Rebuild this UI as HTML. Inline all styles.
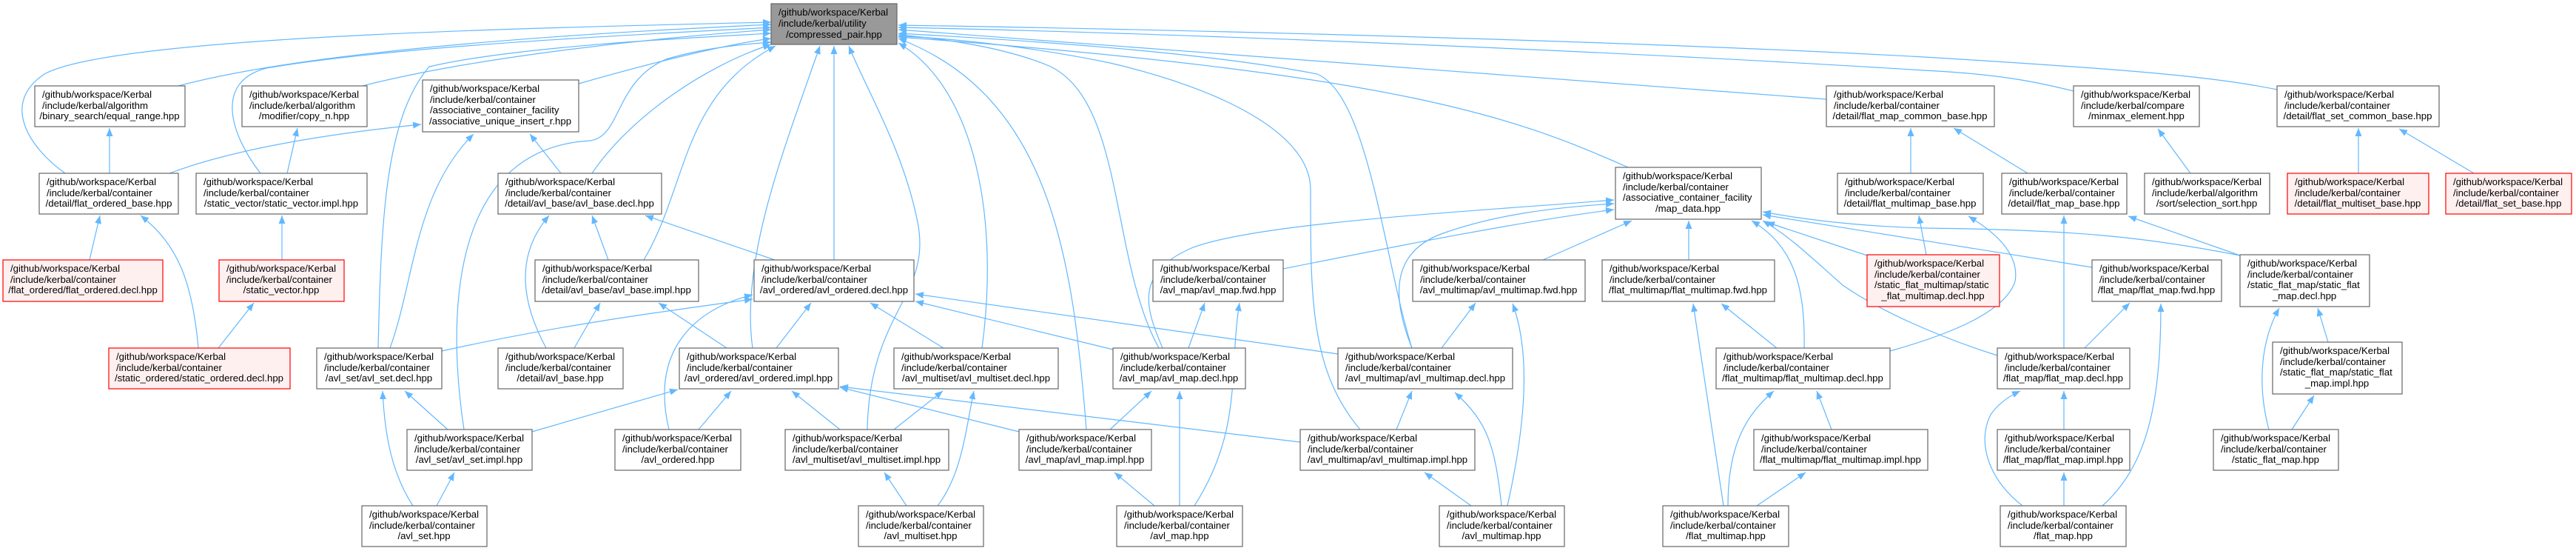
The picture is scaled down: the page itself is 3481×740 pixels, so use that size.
<!DOCTYPE html>
<html><head><meta charset="utf-8"><style>
html,body{margin:0;padding:0;background:#fff;}
svg{display:block;}
text{font-family:"Liberation Sans",sans-serif;font-size:13.2px;fill:#000;}
.n{fill:#fff;stroke:#666;stroke-width:1.2;}
.r{fill:#fff0f0;stroke:#ff0000;stroke-width:1.2;}
.g{fill:#999;stroke:#666;stroke-width:1.2;}
path.e{fill:none;stroke:#63b8ff;stroke-width:1.2;marker-end:url(#a);}
</style></head><body>
<svg width="3481" height="740" viewBox="0 0 3481 740" xmlns="http://www.w3.org/2000/svg">
<defs><marker id="a" markerWidth="11" markerHeight="9" refX="11" refY="4.5" orient="auto" markerUnits="userSpaceOnUse"><path d="M0,0 L11,4.5 L0,9z" fill="#63b8ff"/></marker></defs>
<g>
<!-- edges to compressed_pair -->
<path class="e" d="M241,116 C450,60 900,40 1042,33"/>
<path class="e" d="M490,116 C650,75 900,50 1042,40"/>
<path class="e" d="M782,113 C880,85 980,60 1042,52"/>
<path class="e" d="M88,234 C40,200 0,140 60,100 C150,50 700,38 1042,30"/>
<path class="e" d="M352,234 C310,180 290,110 360,92 C550,60 900,45 1042,37"/>
<path class="e" d="M511,470 C515,300 520,160 580,90 C700,62 950,50 1042,45"/>
<path class="e" d="M627,580 C600,400 620,200 797,190 C840,185 830,110 900,80 C950,65 1000,60 1042,57"/>
<path class="e" d="M800,234 C850,160 950,90 1042,60"/>
<path class="e" d="M870,351 C930,250 920,130 1048,62"/>
<path class="e" d="M1017,470 C1000,350 1060,200 1108,62"/>
<path class="e" d="M1127,351 L1127,62"/>
<path class="e" d="M1172,580 C1175,420 1260,400 1240,300 C1220,200 1170,120 1147,62"/>
<path class="e" d="M1327,470 C1350,300 1320,120 1214,58"/>
<path class="e" d="M1468,580 C1450,350 1420,130 1214,52"/>
<path class="e" d="M1566,470 C1500,350 1520,140 1420,90 C1350,60 1250,50 1214,47"/>
<path class="e" d="M1908,470 C1870,350 1850,130 1780,100 C1600,65 1300,50 1214,45"/>
<path class="e" d="M1838,580 C1770,500 1771,400 1771,256 C1771,180 1650,120 1500,85 C1380,60 1260,50 1214,49"/>
<path class="e" d="M2200,226 C2050,160 1900,100 1214,50"/>
<path class="e" d="M2468,134 C2000,100 1600,70 1214,40"/>
<path class="e" d="M2802,123 C2750,110 2700,100 2600,95 C2200,70 1600,45 1214,37"/>
<path class="e" d="M3077,121 C3000,105 2900,95 2600,77 C2200,55 1600,40 1214,34"/>
<!-- other edges -->
<path class="e" d="M148,234 L148,173"/>
<path class="e" d="M229,234 C320,200 450,180 569,168"/>
<path class="e" d="M388,234 L402,173"/>
<path class="e" d="M527,470 C560,380 560,260 640,181"/>
<path class="e" d="M758,234 L716,181"/>
<path class="e" d="M121,351 L135,291"/>
<path class="e" d="M268,470 C260,380 240,330 190,291"/>
<path class="e" d="M295,470 L343,409"/>
<path class="e" d="M381,351 L381,291"/>
<path class="e" d="M822,351 L800,291"/>
<path class="e" d="M738,470 C700,400 700,340 742,291"/>
<path class="e" d="M776,470 L811,409"/>
<path class="e" d="M1047,351 L872,291"/>
<path class="e" d="M982,470 L890,409"/>
<path class="e" d="M1049,470 L1096,409"/>
<path class="e" d="M597,474 C750,440 900,420 1017,404"/>
<path class="e" d="M605,580 L547,528"/>
<path class="e" d="M719,583 L916,526"/>
<path class="e" d="M558,683 C530,640 520,590 517,528"/>
<path class="e" d="M590,683 L614,638"/>
<path class="e" d="M904,580 C880,480 930,420 1017,398"/>
<path class="e" d="M944,580 L988,528"/>
<path class="e" d="M1275,470 L1176,409"/>
<path class="e" d="M1135,580 L1070,528"/>
<path class="e" d="M1208,580 L1274,528"/>
<path class="e" d="M1225,683 L1195,638"/>
<path class="e" d="M1267,683 C1300,640 1305,580 1316,528"/>
<path class="e" d="M1504,472 L1237,407"/>
<path class="e" d="M1606,470 L1628,409"/>
<path class="e" d="M1500,580 L1556,528"/>
<path class="e" d="M1377,583 L1135,523"/>
<path class="e" d="M1560,683 L1506,638"/>
<path class="e" d="M1594,683 L1594,528"/>
<path class="e" d="M1614,683 C1680,580 1660,500 1675,409"/>
<path class="e" d="M1808,478 L1237,397"/>
<path class="e" d="M1757,597 L1135,522"/>
<path class="e" d="M1571,470 C1550,420 1530,370 1610,335 C1700,300 2000,285 2181,270"/>
<path class="e" d="M1734,363 C1900,330 2050,300 2181,283"/>
<path class="e" d="M2085,351 L2205,298"/>
<path class="e" d="M1908,470 C1880,400 1880,340 1950,315 C2020,290 2100,280 2181,275"/>
<path class="e" d="M1948,470 L1994,409"/>
<path class="e" d="M1887,580 L1908,528"/>
<path class="e" d="M1988,683 L1925,638"/>
<path class="e" d="M2029,683 C2020,600 2010,570 1966,530"/>
<path class="e" d="M2037,683 C2060,580 2070,480 2044,410"/>
<path class="e" d="M2282,351 L2282,298"/>
<path class="e" d="M2401,470 L2326,410"/>
<path class="e" d="M2438,470 C2440,380 2420,330 2367,298"/>
<path class="e" d="M2329,683 L2288,410"/>
<path class="e" d="M2335,683 C2335,600 2360,560 2397,528"/>
<path class="e" d="M2475,580 L2455,528"/>
<path class="e" d="M2374,683 L2440,638"/>
<path class="e" d="M2523,345 L2387,300"/>
<path class="e" d="M2603,344 L2593,291"/>
<path class="e" d="M2582,234 L2582,173"/>
<path class="e" d="M2740,234 L2640,173"/>
<path class="e" d="M2960,234 L2916,174"/>
<path class="e" d="M3187,234 L3187,173"/>
<path class="e" d="M3343,234 L3242,174"/>
<path class="e" d="M2789,470 L2789,291"/>
<path class="e" d="M2554,474 C2640,450 2710,420 2723,380 C2730,340 2690,310 2660,292"/>
<path class="e" d="M2699,480 C2620,455 2540,420 2490,385 C2450,350 2420,320 2382,298"/>
<path class="e" d="M2827,361 C2700,340 2500,310 2382,290"/>
<path class="e" d="M3027,345 C2900,320 2800,310 2600,308 C2500,305 2430,295 2382,286"/>
<path class="e" d="M3027,345 L2876,292"/>
<path class="e" d="M2817,470 L2878,409"/>
<path class="e" d="M2789,580 L2789,528"/>
<path class="e" d="M2789,683 L2789,638"/>
<path class="e" d="M2733,683 C2690,650 2670,600 2690,560 C2700,545 2715,535 2730,528"/>
<path class="e" d="M2841,683 C2900,630 2920,550 2920,410"/>
<path class="e" d="M3146,462 L3132,416"/>
<path class="e" d="M3097,580 L3127,534"/>
<path class="e" d="M3066,580 C3050,520 3055,460 3080,416"/>
</g>
<g>
<rect class="g" x="1042" y="5" width="170" height="55"/><text x="1052" y="21">/github/workspace/Kerbal</text><text x="1052" y="36">/include/kerbal/utility</text><text x="1127" y="51" text-anchor="middle">/compressed_pair.hpp</text>

<rect class="n" x="47" y="116" width="203" height="55"/><text x="57" y="132">/github/workspace/Kerbal</text><text x="57" y="147">/include/kerbal/algorithm</text><text x="148" y="161" text-anchor="middle">/binary_search/equal_range.hpp</text>
<rect class="n" x="327" y="116" width="169" height="55"/><text x="337" y="132">/github/workspace/Kerbal</text><text x="337" y="147">/include/kerbal/algorithm</text><text x="411" y="161" text-anchor="middle">/modifier/copy_n.hpp</text>
<rect class="n" x="571" y="108" width="211" height="70"/><text x="581" y="124">/github/workspace/Kerbal</text><text x="581" y="139">/include/kerbal/container</text><text x="581" y="153">/associative_container_facility</text><text x="676" y="168" text-anchor="middle">/associative_unique_insert_r.hpp</text>
<rect class="n" x="2468" y="116" width="227" height="55"/><text x="2478" y="132">/github/workspace/Kerbal</text><text x="2478" y="147">/include/kerbal/container</text><text x="2581" y="161" text-anchor="middle">/detail/flat_map_common_base.hpp</text>
<rect class="n" x="2802" y="116" width="170" height="55"/><text x="2812" y="132">/github/workspace/Kerbal</text><text x="2812" y="147">/include/kerbal/compare</text><text x="2887" y="161" text-anchor="middle">/minmax_element.hpp</text>
<rect class="n" x="3077" y="116" width="219" height="55"/><text x="3087" y="132">/github/workspace/Kerbal</text><text x="3087" y="147">/include/kerbal/container</text><text x="3186" y="161" text-anchor="middle">/detail/flat_set_common_base.hpp</text>

<rect class="n" x="53" y="234" width="188" height="55"/><text x="63" y="250">/github/workspace/Kerbal</text><text x="63" y="265">/include/kerbal/container</text><text x="147" y="279" text-anchor="middle">/detail/flat_ordered_base.hpp</text>
<rect class="n" x="265" y="234" width="231" height="55"/><text x="275" y="250">/github/workspace/Kerbal</text><text x="275" y="265">/include/kerbal/container</text><text x="380" y="279" text-anchor="middle">/static_vector/static_vector.impl.hpp</text>
<rect class="n" x="673" y="234" width="221" height="55"/><text x="683" y="250">/github/workspace/Kerbal</text><text x="683" y="265">/include/kerbal/container</text><text x="783" y="279" text-anchor="middle">/detail/avl_base/avl_base.decl.hpp</text>
<rect class="n" x="2183" y="226" width="197" height="70"/><text x="2193" y="242">/github/workspace/Kerbal</text><text x="2193" y="257">/include/kerbal/container</text><text x="2193" y="271">/associative_container_facility</text><text x="2281" y="286" text-anchor="middle">/map_data.hpp</text>
<rect class="n" x="2483" y="234" width="197" height="55"/><text x="2493" y="250">/github/workspace/Kerbal</text><text x="2493" y="265">/include/kerbal/container</text><text x="2581" y="279" text-anchor="middle">/detail/flat_multimap_base.hpp</text>
<rect class="n" x="2705" y="234" width="169" height="55"/><text x="2715" y="250">/github/workspace/Kerbal</text><text x="2715" y="265">/include/kerbal/container</text><text x="2789" y="279" text-anchor="middle">/detail/flat_map_base.hpp</text>
<rect class="n" x="2898" y="234" width="169" height="55"/><text x="2908" y="250">/github/workspace/Kerbal</text><text x="2908" y="265">/include/kerbal/algorithm</text><text x="2982" y="279" text-anchor="middle">/sort/selection_sort.hpp</text>
<rect class="r" x="3091" y="234" width="191" height="55"/><text x="3101" y="250">/github/workspace/Kerbal</text><text x="3101" y="265">/include/kerbal/container</text><text x="3186" y="279" text-anchor="middle">/detail/flat_multiset_base.hpp</text>
<rect class="r" x="3305" y="234" width="170" height="55"/><text x="3315" y="250">/github/workspace/Kerbal</text><text x="3315" y="265">/include/kerbal/container</text><text x="3390" y="279" text-anchor="middle">/detail/flat_set_base.hpp</text>

<rect class="r" x="4" y="351" width="216" height="56"/><text x="14" y="367">/github/workspace/Kerbal</text><text x="14" y="382">/include/kerbal/container</text><text x="112" y="396" text-anchor="middle">/flat_ordered/flat_ordered.decl.hpp</text>
<rect class="r" x="296" y="351" width="169" height="56"/><text x="306" y="367">/github/workspace/Kerbal</text><text x="306" y="382">/include/kerbal/container</text><text x="380" y="396" text-anchor="middle">/static_vector.hpp</text>
<rect class="n" x="723" y="351" width="221" height="56"/><text x="733" y="367">/github/workspace/Kerbal</text><text x="733" y="382">/include/kerbal/container</text><text x="833" y="396" text-anchor="middle">/detail/avl_base/avl_base.impl.hpp</text>
<rect class="n" x="1019" y="351" width="216" height="56"/><text x="1029" y="367">/github/workspace/Kerbal</text><text x="1029" y="382">/include/kerbal/container</text><text x="1127" y="396" text-anchor="middle">/avl_ordered/avl_ordered.decl.hpp</text>
<rect class="n" x="1558" y="351" width="176" height="56"/><text x="1568" y="367">/github/workspace/Kerbal</text><text x="1568" y="382">/include/kerbal/container</text><text x="1646" y="396" text-anchor="middle">/avl_map/avl_map.fwd.hpp</text>
<rect class="n" x="1909" y="351" width="233" height="56"/><text x="1919" y="367">/github/workspace/Kerbal</text><text x="1919" y="382">/include/kerbal/container</text><text x="2025" y="396" text-anchor="middle">/avl_multimap/avl_multimap.fwd.hpp</text>
<rect class="n" x="2165" y="351" width="233" height="56"/><text x="2175" y="367">/github/workspace/Kerbal</text><text x="2175" y="382">/include/kerbal/container</text><text x="2281" y="396" text-anchor="middle">/flat_multimap/flat_multimap.fwd.hpp</text>
<rect class="r" x="2523" y="344" width="179" height="70"/><text x="2533" y="360">/github/workspace/Kerbal</text><text x="2533" y="375">/include/kerbal/container</text><text x="2533" y="389">/static_flat_multimap/static</text><text x="2612" y="404" text-anchor="middle">_flat_multimap.decl.hpp</text>
<rect class="n" x="2827" y="351" width="175" height="56"/><text x="2837" y="367">/github/workspace/Kerbal</text><text x="2837" y="382">/include/kerbal/container</text><text x="2914" y="396" text-anchor="middle">/flat_map/flat_map.fwd.hpp</text>
<rect class="n" x="3027" y="344" width="175" height="70"/><text x="3037" y="360">/github/workspace/Kerbal</text><text x="3037" y="375">/include/kerbal/container</text><text x="3037" y="389">/static_flat_map/static_flat</text><text x="3114" y="404" text-anchor="middle">_map.decl.hpp</text>

<rect class="r" x="147" y="470" width="245" height="55"/><text x="157" y="486">/github/workspace/Kerbal</text><text x="157" y="501">/include/kerbal/container</text><text x="269" y="515" text-anchor="middle">/static_ordered/static_ordered.decl.hpp</text>
<rect class="n" x="428" y="470" width="169" height="55"/><text x="438" y="486">/github/workspace/Kerbal</text><text x="438" y="501">/include/kerbal/container</text><text x="512" y="515" text-anchor="middle">/avl_set/avl_set.decl.hpp</text>
<rect class="n" x="673" y="470" width="169" height="55"/><text x="683" y="486">/github/workspace/Kerbal</text><text x="683" y="501">/include/kerbal/container</text><text x="757" y="515" text-anchor="middle">/detail/avl_base.hpp</text>
<rect class="n" x="918" y="470" width="215" height="55"/><text x="928" y="486">/github/workspace/Kerbal</text><text x="928" y="501">/include/kerbal/container</text><text x="1025" y="515" text-anchor="middle">/avl_ordered/avl_ordered.impl.hpp</text>
<rect class="n" x="1208" y="470" width="222" height="55"/><text x="1218" y="486">/github/workspace/Kerbal</text><text x="1218" y="501">/include/kerbal/container</text><text x="1319" y="515" text-anchor="middle">/avl_multiset/avl_multiset.decl.hpp</text>
<rect class="n" x="1504" y="470" width="179" height="55"/><text x="1514" y="486">/github/workspace/Kerbal</text><text x="1514" y="501">/include/kerbal/container</text><text x="1593" y="515" text-anchor="middle">/avl_map/avl_map.decl.hpp</text>
<rect class="n" x="1808" y="470" width="236" height="55"/><text x="1818" y="486">/github/workspace/Kerbal</text><text x="1818" y="501">/include/kerbal/container</text><text x="1926" y="515" text-anchor="middle">/avl_multimap/avl_multimap.decl.hpp</text>
<rect class="n" x="2319" y="470" width="235" height="55"/><text x="2329" y="486">/github/workspace/Kerbal</text><text x="2329" y="501">/include/kerbal/container</text><text x="2436" y="515" text-anchor="middle">/flat_multimap/flat_multimap.decl.hpp</text>
<rect class="n" x="2699" y="470" width="179" height="55"/><text x="2709" y="486">/github/workspace/Kerbal</text><text x="2709" y="501">/include/kerbal/container</text><text x="2788" y="515" text-anchor="middle">/flat_map/flat_map.decl.hpp</text>
<rect class="n" x="3071" y="462" width="175" height="70"/><text x="3081" y="478">/github/workspace/Kerbal</text><text x="3081" y="493">/include/kerbal/container</text><text x="3081" y="507">/static_flat_map/static_flat</text><text x="3158" y="522" text-anchor="middle">_map.impl.hpp</text>

<rect class="n" x="550" y="580" width="169" height="55"/><text x="560" y="596">/github/workspace/Kerbal</text><text x="560" y="611">/include/kerbal/container</text><text x="634" y="625" text-anchor="middle">/avl_set/avl_set.impl.hpp</text>
<rect class="n" x="831" y="580" width="170" height="55"/><text x="841" y="596">/github/workspace/Kerbal</text><text x="841" y="611">/include/kerbal/container</text><text x="916" y="625" text-anchor="middle">/avl_ordered.hpp</text>
<rect class="n" x="1061" y="580" width="221" height="55"/><text x="1071" y="596">/github/workspace/Kerbal</text><text x="1071" y="611">/include/kerbal/container</text><text x="1171" y="625" text-anchor="middle">/avl_multiset/avl_multiset.impl.hpp</text>
<rect class="n" x="1377" y="580" width="179" height="55"/><text x="1387" y="596">/github/workspace/Kerbal</text><text x="1387" y="611">/include/kerbal/container</text><text x="1466" y="625" text-anchor="middle">/avl_map/avl_map.impl.hpp</text>
<rect class="n" x="1757" y="580" width="236" height="55"/><text x="1767" y="596">/github/workspace/Kerbal</text><text x="1767" y="611">/include/kerbal/container</text><text x="1875" y="625" text-anchor="middle">/avl_multimap/avl_multimap.impl.hpp</text>
<rect class="n" x="2370" y="580" width="235" height="55"/><text x="2380" y="596">/github/workspace/Kerbal</text><text x="2380" y="611">/include/kerbal/container</text><text x="2487" y="625" text-anchor="middle">/flat_multimap/flat_multimap.impl.hpp</text>
<rect class="n" x="2699" y="580" width="179" height="55"/><text x="2709" y="596">/github/workspace/Kerbal</text><text x="2709" y="611">/include/kerbal/container</text><text x="2788" y="625" text-anchor="middle">/flat_map/flat_map.impl.hpp</text>
<rect class="n" x="2991" y="580" width="169" height="55"/><text x="3001" y="596">/github/workspace/Kerbal</text><text x="3001" y="611">/include/kerbal/container</text><text x="3075" y="625" text-anchor="middle">/static_flat_map.hpp</text>

<rect class="n" x="489" y="683" width="169" height="55"/><text x="499" y="699">/github/workspace/Kerbal</text><text x="499" y="714">/include/kerbal/container</text><text x="573" y="728" text-anchor="middle">/avl_set.hpp</text>
<rect class="n" x="1160" y="683" width="169" height="55"/><text x="1170" y="699">/github/workspace/Kerbal</text><text x="1170" y="714">/include/kerbal/container</text><text x="1244" y="728" text-anchor="middle">/avl_multiset.hpp</text>
<rect class="n" x="1509" y="683" width="170" height="55"/><text x="1519" y="699">/github/workspace/Kerbal</text><text x="1519" y="714">/include/kerbal/container</text><text x="1594" y="728" text-anchor="middle">/avl_map.hpp</text>
<rect class="n" x="1945" y="683" width="169" height="55"/><text x="1955" y="699">/github/workspace/Kerbal</text><text x="1955" y="714">/include/kerbal/container</text><text x="2029" y="728" text-anchor="middle">/avl_multimap.hpp</text>
<rect class="n" x="2247" y="683" width="170" height="55"/><text x="2257" y="699">/github/workspace/Kerbal</text><text x="2257" y="714">/include/kerbal/container</text><text x="2332" y="728" text-anchor="middle">/flat_multimap.hpp</text>
<rect class="n" x="2703" y="683" width="170" height="55"/><text x="2713" y="699">/github/workspace/Kerbal</text><text x="2713" y="714">/include/kerbal/container</text><text x="2788" y="728" text-anchor="middle">/flat_map.hpp</text>
</g>
</svg>
</body></html>
